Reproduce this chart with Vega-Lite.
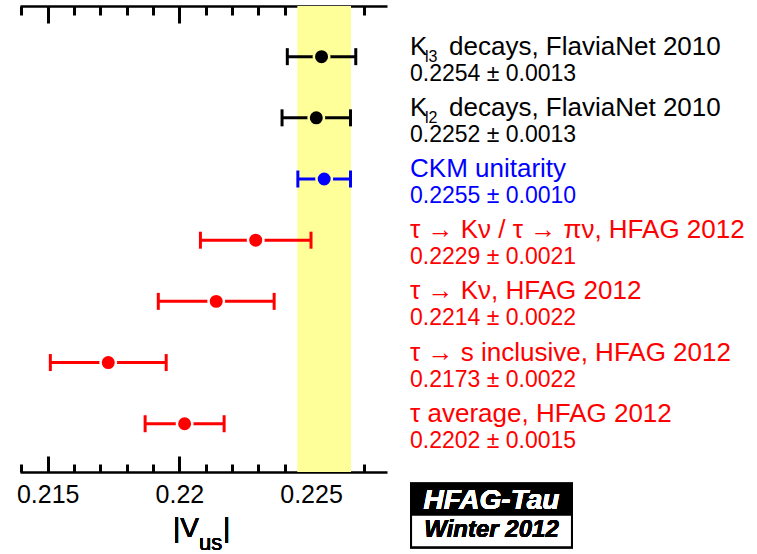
{
  "$schema": "https://vega.github.io/schema/vega-lite/v6.json",
  "width": 367,
  "height": 466,
  "autosize": {"type": "none"},
  "padding": {"left": 20, "top": 6, "right": 370, "bottom": 82},
  "background": "white",
  "config": {"view": {"stroke": null}, "font": "Liberation Sans", "text": {"font": "Liberation Sans"}},
  "data": {"values": [
    {"row": 7, "group": "K", "value": 0.2254, "lo": 0.2241, "hi": 0.2267, "name": "K", "sub": "l3", "rest": "decays, FlaviaNet 2010", "valtext": "0.2254 ± 0.0013"},
    {"row": 6, "group": "K", "value": 0.2252, "lo": 0.2239, "hi": 0.2265, "name": "K", "sub": "l2", "rest": "decays, FlaviaNet 2010", "valtext": "0.2252 ± 0.0013"},
    {"row": 5, "group": "CKM", "value": 0.2255, "lo": 0.2245, "hi": 0.2265, "name": "CKM unitarity", "sub": "", "rest": "", "valtext": "0.2255 ± 0.0010"},
    {"row": 4, "group": "tau", "value": 0.2229, "lo": 0.2208, "hi": 0.2250, "name": "τ → Kν / τ → πν, HFAG 2012", "sub": "", "rest": "", "valtext": "0.2229 ± 0.0021"},
    {"row": 3, "group": "tau", "value": 0.2214, "lo": 0.2192, "hi": 0.2236, "name": "τ → Kν, HFAG 2012", "sub": "", "rest": "", "valtext": "0.2214 ± 0.0022"},
    {"row": 2, "group": "tau", "value": 0.2173, "lo": 0.2151, "hi": 0.2195, "name": "τ → s inclusive, HFAG 2012", "sub": "", "rest": "", "valtext": "0.2173 ± 0.0022"},
    {"row": 1, "group": "tau", "value": 0.2202, "lo": 0.2187, "hi": 0.2217, "name": "τ average, HFAG 2012", "sub": "", "rest": "", "valtext": "0.2202 ± 0.0015"}
  ]},
  "resolve": {"axis": {"x": "independent", "y": "independent"}},
  "layer": [
    {
      "mark": {"type": "rect", "color": "#ffff99"},
      "encoding": {
        "x": {"datum": 0.2245, "type": "quantitative", "scale": {"domain": [0.213948, 0.227886], "nice": false, "zero": false}, "axis": null},
        "x2": {"datum": 0.2265}
      }
    },
    {
      "mark": {"type": "rule", "strokeWidth": 3},
      "encoding": {
        "x": {"field": "lo", "type": "quantitative", "scale": {"domain": [0.213948, 0.227886], "nice": false, "zero": false},
          "axis": {"orient": "bottom", "title": null, "grid": false,
            "values": [0.214, 0.215, 0.216, 0.217, 0.218, 0.219, 0.22, 0.221, 0.222, 0.223, 0.224, 0.225, 0.226, 0.227],
            "tickSize": {"condition": {"test": "round(datum.value*1000) % 5 === 0", "value": -16}, "value": -8},
            "tickWidth": 3, "tickColor": "black", "domainColor": "black", "domainWidth": 2.5,
            "labelExpr": "round(datum.value*1000) % 5 === 0 ? toString(round(datum.value*1000)/1000) : ''",
            "labelOverlap": false, "labelFont": "Liberation Sans", "labelFontSize": 25, "labelColor": "black",
            "labelBaseline": "alphabetic", "labelPadding": 46}},
        "x2": {"field": "hi"},
        "y": {"field": "row", "type": "quantitative", "scale": {"domain": [0.211, 7.828], "nice": false, "zero": false}, "axis": null},
        "color": {"field": "group", "type": "nominal", "scale": {"domain": ["K", "CKM", "tau"], "range": ["#000000", "#0000ff", "#ff0000"]}, "legend": null}
      }
    },
    {
      "mark": {"type": "tick", "orient": "vertical", "size": 17, "thickness": 3, "opacity": 1},
      "encoding": {
        "x": {"field": "lo", "type": "quantitative", "axis": null},
        "y": {"field": "row", "type": "quantitative", "axis": null},
        "color": {"field": "group", "type": "nominal", "legend": null}
      }
    },
    {
      "mark": {"type": "tick", "orient": "vertical", "size": 17, "thickness": 3, "opacity": 1},
      "encoding": {
        "x": {"field": "hi", "type": "quantitative", "axis": null},
        "y": {"field": "row", "type": "quantitative", "axis": null},
        "color": {"field": "group", "type": "nominal", "legend": null}
      }
    },
    {
      "mark": {"type": "point", "shape": "circle", "filled": true, "size": 240, "strokeWidth": 2.5, "opacity": 1},
      "encoding": {
        "x": {"field": "value", "type": "quantitative",
          "axis": {"orient": "top", "title": null, "grid": false, "labels": false,
            "values": [0.214, 0.215, 0.216, 0.217, 0.218, 0.219, 0.22, 0.221, 0.222, 0.223, 0.224, 0.225, 0.226, 0.227],
            "tickSize": {"condition": {"test": "round(datum.value*1000) % 5 === 0", "value": -17}, "value": -9},
            "tickWidth": 3, "tickColor": "black", "domainColor": "black", "domainWidth": 2.5}},
        "y": {"field": "row", "type": "quantitative", "axis": null},
        "color": {"field": "group", "type": "nominal", "legend": null},
        "stroke": {"condition": {"test": "datum.value > 0.2245 && datum.value < 0.2265", "value": "#ffff99"}, "value": "#ffffff"}
      }
    },
    {
      "mark": {"type": "text", "align": "left", "baseline": "alphabetic", "fontSize": 26, "dy": -2},
      "encoding": {
        "x": {"datum": 0.22876, "type": "quantitative", "axis": null},
        "y": {"field": "row", "type": "quantitative", "axis": null},
        "text": {"field": "name"},
        "color": {"field": "group", "type": "nominal", "legend": null}
      }
    },
    {
      "mark": {"type": "text", "align": "left", "baseline": "alphabetic", "fontSize": 16, "dy": 5, "dx": 15},
      "encoding": {
        "x": {"datum": 0.22876, "type": "quantitative", "axis": null},
        "y": {"field": "row", "type": "quantitative", "axis": null},
        "text": {"field": "sub"},
        "color": {"field": "group", "type": "nominal", "legend": null}
      }
    },
    {
      "mark": {"type": "text", "align": "left", "baseline": "alphabetic", "fontSize": 26, "dy": -2, "dx": 39},
      "encoding": {
        "x": {"datum": 0.22876, "type": "quantitative", "axis": null},
        "y": {"field": "row", "type": "quantitative", "axis": null},
        "text": {"field": "rest"},
        "color": {"field": "group", "type": "nominal", "legend": null}
      }
    },
    {
      "mark": {"type": "text", "align": "left", "baseline": "alphabetic", "fontSize": 23, "dy": 24},
      "encoding": {
        "x": {"datum": 0.22876, "type": "quantitative", "axis": null},
        "y": {"field": "row", "type": "quantitative", "axis": null},
        "text": {"field": "valtext"},
        "color": {"field": "group", "type": "nominal", "legend": null}
      }
    },
    {
      "mark": {"type": "rect", "color": "black"},
      "encoding": {
        "x": {"datum": 0.22876, "type": "quantitative", "axis": null}, "x2": {"datum": 0.23495},
        "y": {"datum": 0.036, "type": "quantitative", "axis": null}, "y2": {"datum": -0.486}
      }
    },
    {
      "mark": {"type": "rect", "fill": "white", "stroke": "black", "strokeWidth": 2},
      "encoding": {
        "x": {"datum": 0.22880, "type": "quantitative", "axis": null}, "x2": {"datum": 0.23491},
        "y": {"datum": -0.486, "type": "quantitative", "axis": null}, "y2": {"datum": -1.02}
      }
    },
    {
      "mark": {"type": "text", "align": "center", "baseline": "alphabetic", "fontSize": 28, "fontWeight": "bold", "fontStyle": "italic", "color": "white"},
      "encoding": {
        "x": {"datum": 0.231855, "type": "quantitative", "axis": null},
        "y": {"datum": -0.395, "type": "quantitative", "axis": null},
        "text": {"value": "HFAG-Tau"}
      }
    },
    {
      "mark": {"type": "text", "align": "center", "baseline": "alphabetic", "fontSize": 24, "fontWeight": "bold", "fontStyle": "italic", "color": "black"},
      "encoding": {
        "x": {"datum": 0.231855, "type": "quantitative", "axis": null},
        "y": {"datum": -0.846, "type": "quantitative", "axis": null},
        "text": {"value": "Winter 2012"}
      }
    },
    {
      "mark": {"type": "text", "align": "left", "baseline": "alphabetic", "fontSize": 28, "color": "black"},
      "encoding": {
        "x": {"datum": 0.219759, "type": "quantitative", "axis": null},
        "y": {"datum": -0.846, "type": "quantitative", "axis": null},
        "text": {"value": "|V"}
      }
    },
    {
      "mark": {"type": "text", "align": "left", "baseline": "alphabetic", "fontSize": 22, "dy": 13, "dx": 26, "color": "black"},
      "encoding": {
        "x": {"datum": 0.219759, "type": "quantitative", "axis": null},
        "y": {"datum": -0.846, "type": "quantitative", "axis": null},
        "text": {"value": "us"}
      }
    },
    {
      "mark": {"type": "text", "align": "left", "baseline": "alphabetic", "fontSize": 28, "dx": 50, "color": "black"},
      "encoding": {
        "x": {"datum": 0.219759, "type": "quantitative", "axis": null},
        "y": {"datum": -0.846, "type": "quantitative", "axis": null},
        "text": {"value": "|"}
      }
    }
  ]
}
